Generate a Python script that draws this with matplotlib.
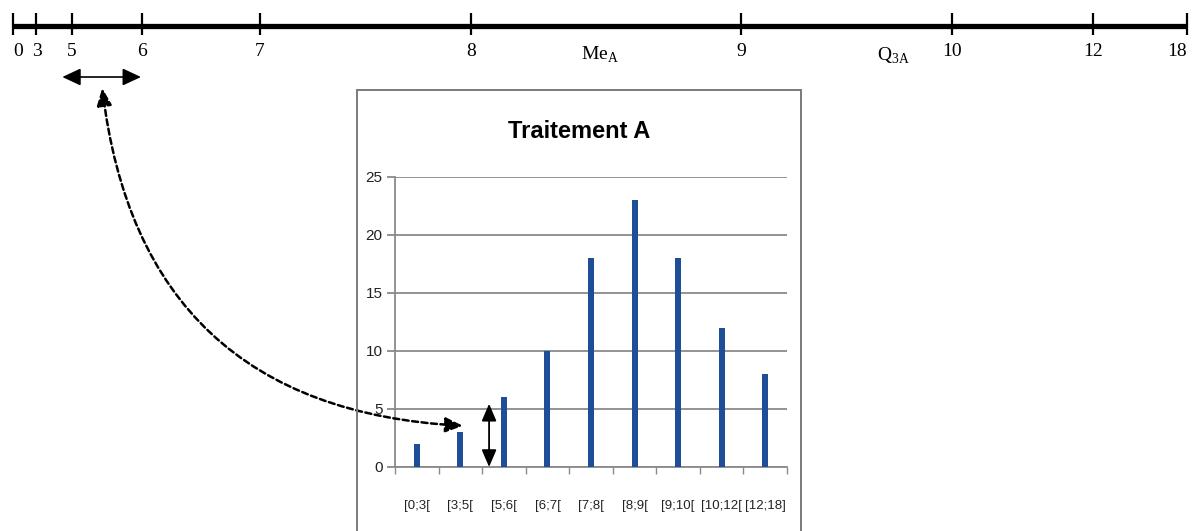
import matplotlib
matplotlib.use('Agg')
import matplotlib.pyplot as plt
import matplotlib.patches as mpatches
import numpy as np

# ── données ───────────────────────────────────────────────────────────────────
classes = ['[0;3[', '[3;5[', '[5;6[', '[6;7[', '[7;8[', '[8;9[', '[9;10[', '[10;12[', '[12;18]']
effectifs = [2, 3, 6, 10, 18, 23, 18, 12, 8]
bornes = ['0', '3', '5', '6', '7', '8', '9', '10', '12', '18']
y_ticks = [0, 5, 10, 15, 20, 25]

# position des bornes sur la droite = effectifs cumulés
cumul = np.concatenate([[0], np.cumsum(effectifs)])
total = cumul[-1]

# ── style ─────────────────────────────────────────────────────────────────────
BAR = '#1F4E99'
GRID = '#8a8a8a'
SERIF = 'Liberation Serif'
NARROW = ['Liberation Sans Narrow', 'Liberation Sans', 'DejaVu Sans']

W, H = 1199, 531
fig = plt.figure(figsize=(W / 100, H / 100), dpi=100, facecolor='white')


def px(x0, y0, x1, y1):
    """boîte en pixels (origine en haut à gauche) -> fraction de figure"""
    return [x0 / W, 1 - y1 / H, (x1 - x0) / W, (y1 - y0) / H]


# ── droite graduée ────────────────────────────────────────────────────────────
ax_n = fig.add_axes(px(13, 0, 1187, 100))
ax_n.set_xlim(0, total)
ax_n.set_ylim(100, 0)
ax_n.axis('off')

ax_n.plot([cumul[0], cumul[-1]], [26, 26], color='black', lw=3.8,
          solid_capstyle='butt', clip_on=False)
ax_n.vlines(cumul, 13, 35, color='black', lw=1.6, clip_on=False)
for i, (c, b) in enumerate(zip(cumul, bornes)):
    ha = 'left' if i == 0 else ('right' if i == len(bornes) - 1 else 'center')
    ax_n.text(c, 51, b, ha=ha, va='center', fontfamily=SERIF, fontsize=14,
              clip_on=False)

ax_n.text(total / 2, 55, r'Me$_\mathregular{A}$', ha='center', va='center',
          fontfamily=SERIF, fontsize=14)
ax_n.text(total * 3 / 4, 56, r'Q$_\mathregular{3A}$', ha='center', va='center',
          fontfamily=SERIF, fontsize=14)

# flèche horizontale (largeur de la classe [5;6[)
ax_n.annotate('', xy=(4.2, 77), xytext=(10.9, 77),
              arrowprops=dict(arrowstyle='<|-|>,head_length=0.75,head_width=0.35',
                              mutation_scale=15, color='black', lw=1.2,
                              shrinkA=0, shrinkB=0),
              annotation_clip=False)

# ── cadre du graphique ────────────────────────────────────────────────────────
fig.add_artist(mpatches.Rectangle((357 / W, 1 - 545 / H), 444 / W, 455 / H,
                                  transform=fig.transFigure, fill=False,
                                  ec='#7a7a7a', lw=1.4))

fig.text(579 / W, 1 - 131 / H, 'Traitement A', ha='center', va='center',
         fontsize=17, fontweight='bold', family=NARROW)

# ── diagramme en bâtons ───────────────────────────────────────────────────────
ax_b = fig.add_axes(px(395, 177, 787, 467))
x = np.arange(len(classes))
ax_b.bar(x, effectifs, width=0.14, color=BAR, zorder=3)
ax_b.set_xlim(-0.5, len(classes) - 0.5)
ax_b.set_ylim(0, 25)
ax_b.set_yticks(y_ticks)
ax_b.set_yticklabels([str(v) for v in y_ticks], family=NARROW, fontsize=11,
                     color='#222222')
ax_b.set_xticks(x)
ax_b.set_xticklabels(classes, family=NARROW, fontsize=9.5, color='#222222')
ax_b.set_xticks(np.arange(-0.5, len(classes)), minor=True)
ax_b.grid(axis='y', color=GRID, lw=1.3, zorder=0)
ax_b.set_axisbelow(True)
for s in ('top', 'right'):
    ax_b.spines[s].set_visible(False)
for s in ('left', 'bottom'):
    ax_b.spines[s].set_color(GRID)
    ax_b.spines[s].set_linewidth(1.3)
ax_b.tick_params(axis='y', length=6, width=1.3, color=GRID, pad=3)
ax_b.tick_params(axis='x', which='major', length=0, pad=24)
ax_b.tick_params(axis='x', which='minor', length=5, width=1.0, color=GRID)

# flèche verticale double
ax_b.annotate('', xy=(1.66, 0), xytext=(1.66, 5.45),
              arrowprops=dict(arrowstyle='<|-|>,head_length=0.7,head_width=0.3',
                              mutation_scale=15, color='black', lw=1.3,
                              shrinkA=0, shrinkB=0),
              annotation_clip=False)

# flèche courbe en pointillés
ax_b.annotate('', xy=(1.06, 3.55), xycoords='data',
              xytext=(7.6, 88), textcoords=ax_n.transData,
              arrowprops=dict(arrowstyle='<|-|>,head_length=0.7,head_width=0.3',
                              connectionstyle='arc3,rad=0.42',
                              mutation_scale=15, color='black', lw=1.8,
                              linestyle=(0, (2.4, 1.4)),
                              shrinkA=0, shrinkB=0),
              annotation_clip=False)

fig.savefig('out.png', dpi=100, facecolor='white')
